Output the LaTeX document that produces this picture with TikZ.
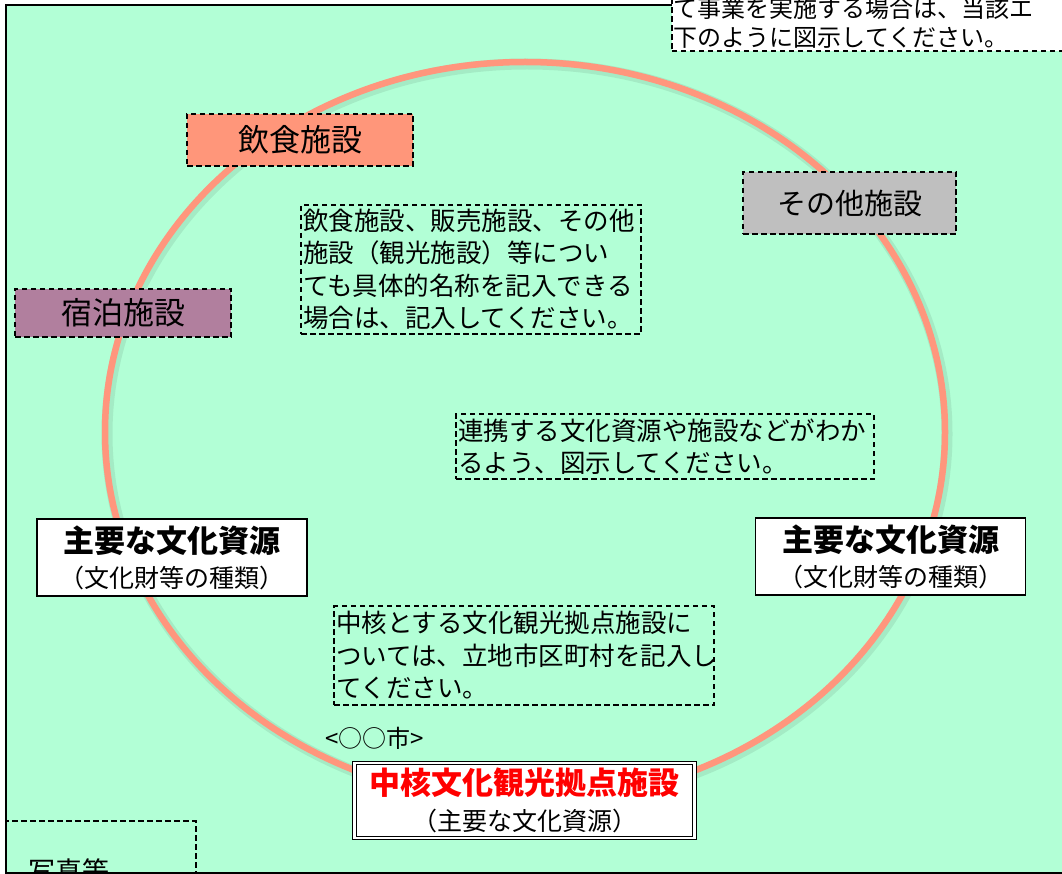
\documentclass[tikz,border=0pt]{standalone}
\usepackage{fontspec}
\setmainfont{Noto Sans CJK JP}
\definecolor{haikei}{RGB}{178,255,214}
\definecolor{wakusen}{RGB}{255,150,125}
\definecolor{inshoku}{RGB}{255,150,122}
\definecolor{sonota}{RGB}{191,191,191}
\definecolor{shukuhaku}{RGB}{177,127,158}
\definecolor{akaji}{RGB}{255,0,0}

\begin{document}
\begin{tikzpicture}[x=1pt,y=-1pt]
    \tikzstyle{tenline}=[draw=black, line width=1.6pt, dash pattern=on 5.5pt off 3.5pt]
    \tikzstyle{shisetsu}=[tenline, inner sep=0pt, font=\fontsize{31}{36}\selectfont]
    \tikzstyle{chuki}=[tenline, inner xsep=2pt, inner ysep=0pt, align=left, font=\fontsize{25.5}{32.5}\selectfont]
    \tikzstyle{shigen}=[draw=black, line width=1.2pt, fill=white, align=center, minimum width=270pt, minimum height=77pt, font=\fontsize{25}{35}\selectfont]

    \useasboundingbox (0,0) rectangle (1062,874);
    \fill[white] (0,0) rectangle (1062,874);

    % waku and ring
    \draw[line width=2pt, fill=haikei] (6,5) rectangle (1075,873);
    \draw[black, opacity=0.08, line width=11pt] (527,434) ellipse [x radius=420, y radius=370];
    \draw[wakusen, line width=6.5pt] (525,432) ellipse [x radius=420, y radius=370];

    % shisetsu
    \node[shisetsu, fill=inshoku, minimum width=226pt, minimum height=52pt] (inshoku) at (300,140) {飲食施設};
    \node[shisetsu, fill=sonota, minimum width=213pt, minimum height=62pt, font=\fontsize{29}{34}\selectfont] (sonota) at (849.5,203) {その他施設};
    \node[shisetsu, fill=shukuhaku, minimum width=216pt, minimum height=48pt] (shukuhaku) at (123,313) {宿泊施設};

    % chuki
    \node[chuki, text width=336pt, minimum height=129pt] (chuki1) at (471,269.5) {飲食施設、販売施設、その他\\施設（観光施設）等につい\\ても具体的名称を記入できる\\場合は、記入してください。};
    \node[chuki, text width=414pt, minimum height=65pt] (chuki2) at (665,446.5) {連携する文化資源や施設などがわか\\るよう、図示してください。};
    \node[chuki, text width=376pt, minimum height=99pt] (chuki3) at (524,655.5) {中核とする文化観光拠点施設に\\ついては、立地市区町村を記入し\\てください。};

    % shigen
    \node[shigen] (shigen-l) at (172,557.5) {{\fontsize{31}{35}\selectfont\bfseries 主要な文化資源}\\（文化財等の種類）};
    \node[shigen] (shigen-r) at (890.5,556.5) {{\fontsize{31}{35}\selectfont\bfseries 主要な文化資源}\\（文化財等の種類）};

    \node[anchor=west, inner sep=0pt, font=\fontsize{24}{28}\selectfont] (shimei) at (325,738) {<○○市>};
    \node[draw=black, double=white, double distance=2.5pt, line width=1pt, fill=white, minimum width=340pt, minimum height=75pt, align=center, font=\fontsize{25}{36}\selectfont] (chukaku) at (524.5,800.5) {{\fontsize{31}{36}\selectfont\bfseries\color{akaji}中核文化観光拠点施設}\\（主要な文化資源）};

    % setsumei (top right), shashin (bottom left)
    \node[tenline, fill=white, anchor=south west, align=left, text width=420pt, inner xsep=2pt, inner ysep=3pt, font=\fontsize{24}{29}\selectfont] (setsumei) at (671,52) {て事業を実施する場合は、当該エ\\下のように図示してください。};
    \node[tenline, anchor=north west, align=left, text width=186pt, inner xsep=2pt, inner ysep=0pt, minimum height=100pt, font=\fontsize{27}{32}\selectfont] (shashin) at (5,820) {\hspace*{21pt}写真等};
\end{tikzpicture}
\end{document}
